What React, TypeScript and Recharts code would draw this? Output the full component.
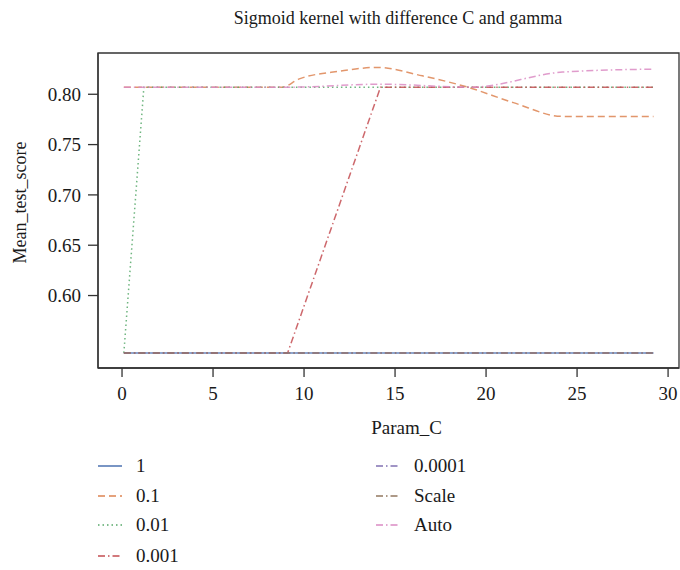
import React from "react";
import { LineChart, Line, XAxis, YAxis, ReferenceArea } from "recharts";

// C values shared by most gamma curves
const paramC = [0.1, 1.2, 9.1, 14.2, 19.2, 24.2, 29.2];
const gamma1 = [0.543, 0.543, 0.543, 0.543, 0.543, 0.543, 0.543];
const gamma001 = [0.543, 0.807, 0.807, 0.807, 0.807, 0.807, 0.807];
const gamma0001 = [0.543, 0.543, 0.543, 0.807, 0.807, 0.807, 0.807];
const gamma00001 = [0.543, 0.543, 0.543, 0.543, 0.543, 0.543, 0.543];
const gammaScale = [0.543, 0.543, 0.543, 0.543, 0.543, 0.543, 0.543];
const gammaAuto = [0.807, 0.807, 0.807, 0.81, 0.807, 0.822, 0.825];

// gamma = 0.1 is read at more points (smooth bump)
const paramC01 = [0.1, 8.8, 9.7, 12, 14, 16.5, 19, 21.5, 24.2, 29.2];
const gamma01 = [0.807, 0.807, 0.815, 0.823, 0.8267, 0.8183, 0.807, 0.7917, 0.778, 0.778];

const xTicks = [0, 5, 10, 15, 20, 25, 30];
const yTicks = [0.6, 0.65, 0.7, 0.75, 0.8];

const font = "'Liberation Serif', 'DejaVu Serif', serif";
const ink = "#333";
const text = "#1a1a1a";

const toRows = (cs: number[], vs: number[]) => cs.map((c, i) => ({ c, v: vs[i] }));

const series = [
  { name: "1", data: toRows(paramC, gamma1), color: "#4C72B0", dash: undefined, type: "linear" },
  { name: "0.1", data: toRows(paramC01, gamma01), color: "#DD8452", dash: "7 4", type: "monotone" },
  { name: "0.01", data: toRows(paramC, gamma001), color: "#55A868", dash: "1.5 3", type: "linear" },
  { name: "0.001", data: toRows(paramC, gamma0001), color: "#C44E52", dash: "7 3 1.5 3", type: "linear" },
  { name: "0.0001", data: toRows(paramC, gamma00001), color: "#8172B3", dash: "7 3 1.5 3", type: "linear" },
  { name: "Scale", data: toRows(paramC, gammaScale), color: "#937860", dash: "7 3 1.5 3", type: "linear" },
  { name: "Auto", data: toRows(paramC, gammaAuto), color: "#DA8BC3", dash: "7 3 1.5 3", type: "monotone" },
];

const legendPos = [
  { left: 98, top: 456 },
  { left: 98, top: 486 },
  { left: 98, top: 515 },
  { left: 98, top: 546 },
  { left: 376, top: 456 },
  { left: 376, top: 486 },
  { left: 376, top: 515 },
];

const App = () => {
  const xDomain = [-1.32, 30.6];
  const yDomain = [0.528, 0.841];
  return (
    <div style={{ position: "absolute", left: 0, top: 0, width: 680, height: 570, fontFamily: font, background: "#fff" }}>
      <div style={{ position: "absolute", top: 7, left: 0, width: 796, textAlign: "center", fontSize: 18, lineHeight: "22px", color: text }}>
        Sigmoid kernel with difference C and gamma
      </div>
      <LineChart width={680} height={570} margin={{ top: 53, right: 1, left: 0, bottom: 132 }}>
        <XAxis
          type="number"
          dataKey="c"
          domain={xDomain}
          ticks={xTicks}
          allowDataOverflow
          height={70}
          tickSize={9}
          tickMargin={10}
          stroke={ink}
          strokeWidth={1.3}
          tick={{ fill: text, fontSize: 19, fontFamily: font }}
          label={({ viewBox }: any) => (
            <text x={viewBox.x + viewBox.width / 2 + 18} y={viewBox.y + 66} textAnchor="middle" fill={text} fontSize={19} fontFamily={font}>
              Param_C
            </text>
          )}
        />
        <YAxis
          type="number"
          domain={yDomain}
          ticks={yTicks}
          allowDataOverflow
          width={98}
          tickSize={10}
          tickMargin={7}
          stroke={ink}
          strokeWidth={1.3}
          tickFormatter={(v: number) => v.toFixed(2)}
          tick={{ fill: text, fontSize: 19, fontFamily: font }}
          label={({ viewBox }: any) => {
            const cy = viewBox.y + viewBox.height / 2 - 8;
            return (
              <text x={26} y={cy} transform={`rotate(-90, 26, ${cy})`} textAnchor="middle" fill={text} fontSize={18} fontFamily={font}>
                Mean_test_score
              </text>
            );
          }}
        />
        <ReferenceArea x1={xDomain[0]} x2={xDomain[1]} y1={yDomain[0]} y2={yDomain[1]} fill="none" stroke={ink} strokeWidth={1.3} ifOverflow="visible" />
        {series.map((s) => (
          <Line
            key={s.name}
            data={s.data}
            dataKey="v"
            name={s.name}
            type={s.type as any}
            stroke={s.color}
            strokeWidth={1.5}
            strokeOpacity={0.85}
            strokeDasharray={s.dash}
            dot={false}
            activeDot={false}
            isAnimationActive={false}
          />
        ))}
      </LineChart>
      {series.map((s, i) => (
        <div
          key={s.name}
          style={{ position: "absolute", left: legendPos[i].left, top: legendPos[i].top, height: 20, display: "flex", alignItems: "center", fontSize: 19, lineHeight: "20px", color: text }}
        >
          <svg width={26} height={10} style={{ marginRight: 12 }}>
            <line x1={0} y1={5} x2={24} y2={5} stroke={s.color} strokeWidth={1.5} strokeDasharray={s.dash} />
          </svg>
          <span>{s.name}</span>
        </div>
      ))}
    </div>
  );
};

export default App;
